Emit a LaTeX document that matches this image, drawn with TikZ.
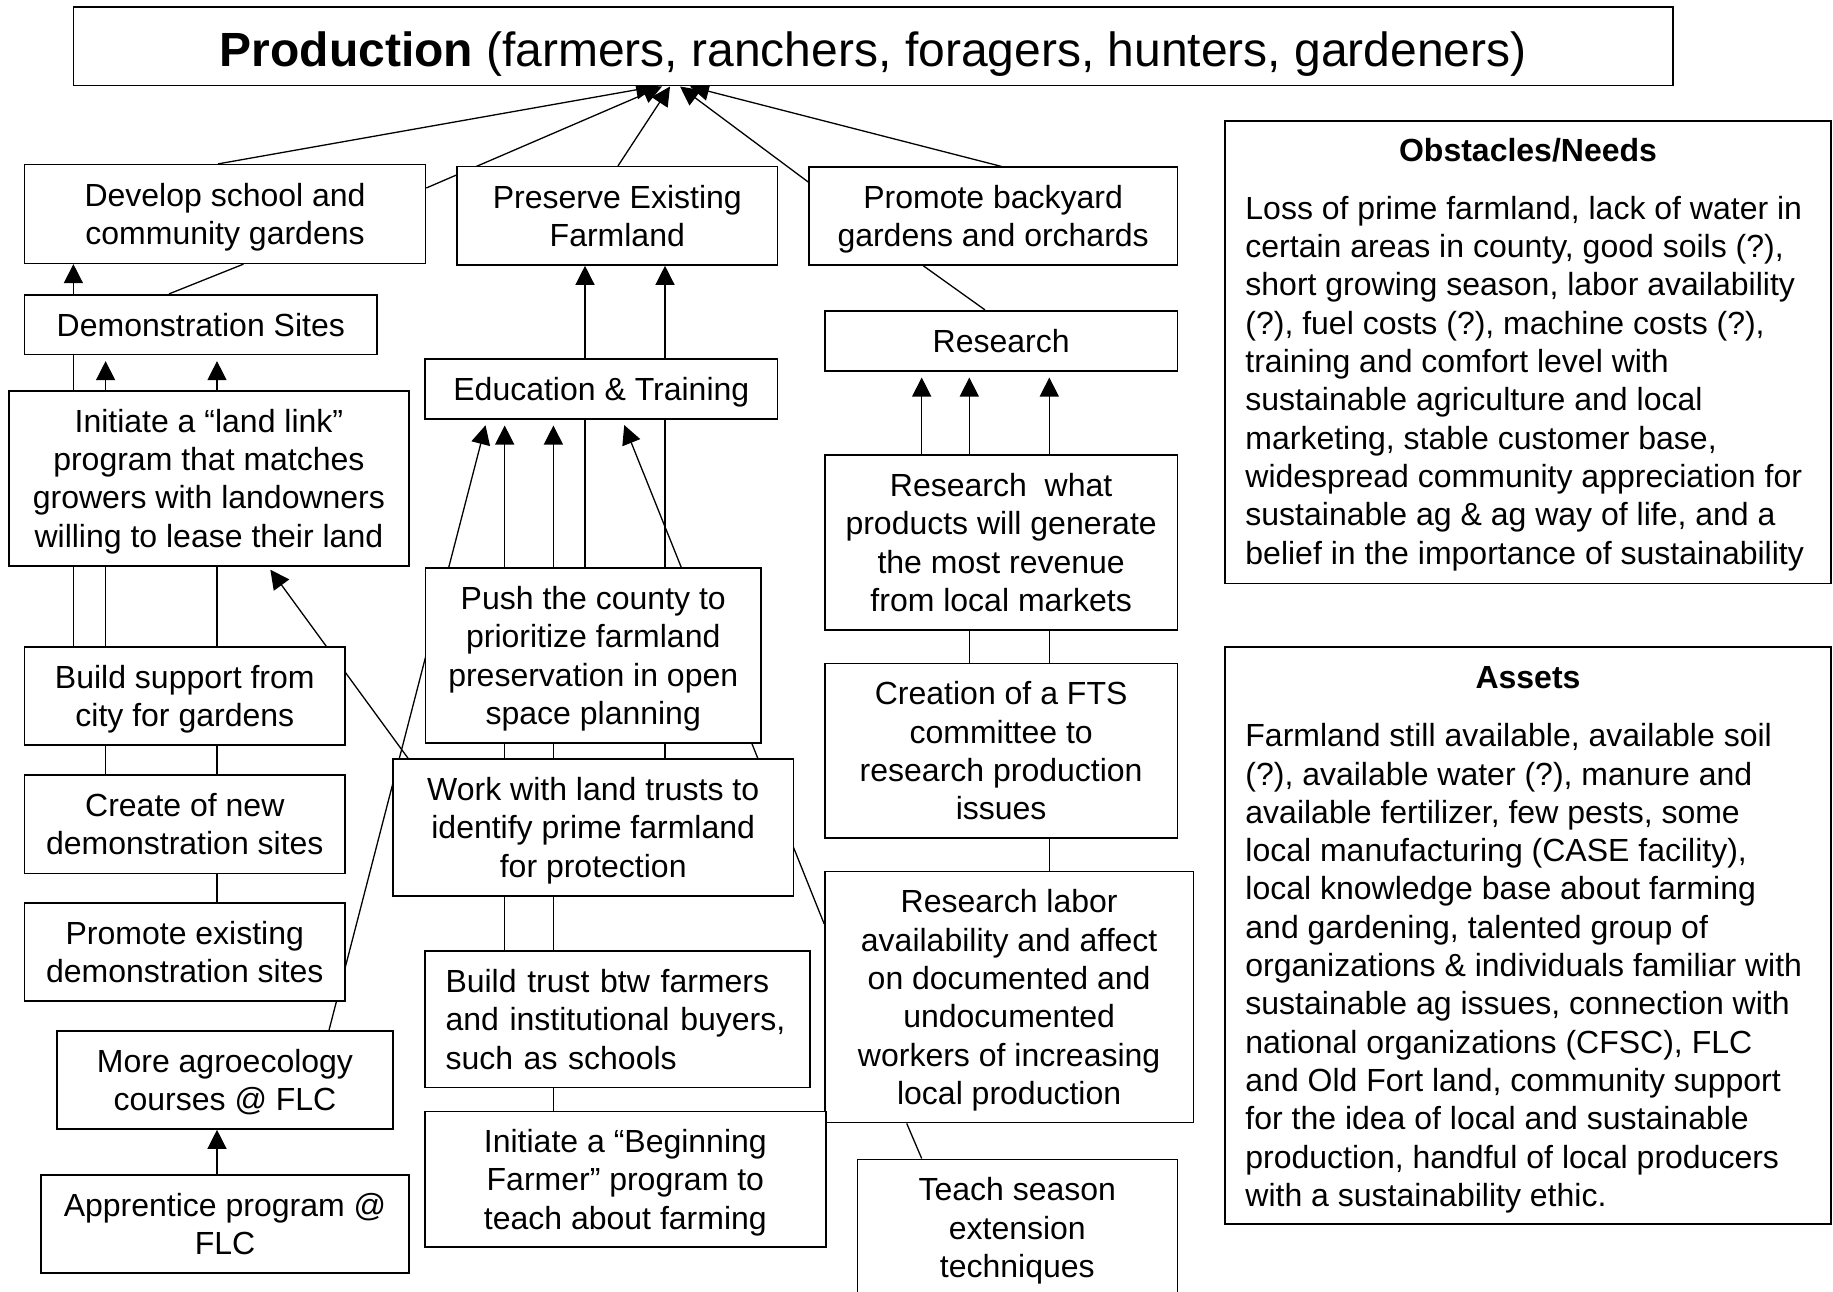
\documentclass[tikz,border=0pt]{standalone}
\usepackage{fontspec}
\setmainfont{Liberation Sans}
\usetikzlibrary{arrows.meta,backgrounds}
\newcommand\bodyfont{\fontsize{32}{38.3}\selectfont}
\newcommand\titlefont{\fontsize{48}{56}\selectfont}
\begin{document}
\begin{tikzpicture}[x=1pt,y=-1pt,
  box/.style={draw,line width=1.6pt,fill=white,inner sep=0pt,align=center,font=\bodyfont,text depth=0pt},
  conn/.style={line width=1.3pt},
  arr/.style={conn,-{Triangle[length=19pt,width=19pt]}},
  gap/.style={shorten >=6pt}]
\useasboundingbox (0,0) rectangle (1833,1292);

% boxes
\node[box,minimum width=1599.6pt,minimum height=78.4pt,font=\titlefont,text height=41pt,text depth=0pt] (title) at (873.2,46.5) {\textbf{Production} (farmers, ranchers, foragers, hunters, gardeners)};
\node[box,minimum width=400.9pt,minimum height=98.6pt] (develop) at (225.05,214) {Develop school and\\community gardens};
\node[box,minimum width=320.6pt,minimum height=98.3pt] (preserve) at (617.3,215.85) {Preserve Existing\\Farmland};
\node[box,minimum width=368.3pt,minimum height=97.7pt] (backyard) at (993.15,216.15) {Promote backyard\\gardens and orchards};
\node[box,minimum width=352.4pt,minimum height=59.6pt] (demo) at (200.8,324.5) {Demonstration Sites};
\node[box,minimum width=352.6pt,minimum height=59.7pt] (edu) at (601.3,388.85) {Education \& Training};
\node[box,minimum width=352.3pt,minimum height=60pt] (research) at (1001.15,340.7) {Research};
\node[box,minimum width=400.2pt,minimum height=175pt] (landlink) at (208.9,478.2) {Initiate a “land link”\\program that matches\\growers with landowners\\willing to lease their land};
\node[box,minimum width=352.3pt,minimum height=175pt] (rwhat) at (1001.15,542.5) {Research\ \ what\\products will generate\\the most revenue\\from local markets};
\node[box,minimum width=335.5pt,minimum height=174.7pt] (push) at (593.25,655.35) {Push the county to\\prioritize farmland\\preservation in open\\space planning};
\node[box,minimum width=320.4pt,minimum height=98.3pt] (buildsup) at (184.8,695.85) {Build support from\\city for gardens};
\node[box,minimum width=352.3pt,minimum height=174.2pt] (fts) at (1001.15,750.7) {Creation of a FTS\\committee to\\research production\\issues};
\node[box,minimum width=400.4pt,minimum height=136.7pt] (work) at (593.2,827.35) {Work with land trusts to\\identify prime farmland\\for protection};
\node[box,minimum width=320.4pt,minimum height=98.3pt] (create) at (184.8,824.15) {Create of new\\demonstration sites};
\node[box,minimum width=368.3pt,minimum height=251.2pt] (labor) at (1009.15,997) {Research labor\\availability and affect\\on documented and\\undocumented\\workers of increasing\\local production};
\node[box,minimum width=320.4pt,minimum height=98.3pt] (promex) at (184.8,951.85) {Promote existing\\demonstration sites};
\node[box,align=left,text width=344pt,text depth=76.6pt,minimum width=385pt,minimum height=136.3pt] (trust) at (617.5,1019.15) {Build trust btw farmers\\and institutional buyers,\\such as schools};
\node[box,minimum width=336pt,minimum height=98pt] (agro) at (225,1080) {More agroecology\\courses @ FLC};
\node[box,minimum width=400.7pt,minimum height=135.7pt] (begin) at (625.35,1179.15) {Initiate a “Beginning\\Farmer” program to\\teach about farming};
\node[box,minimum width=368pt,minimum height=97.7pt] (appr) at (225,1223.85) {Apprentice program @\\FLC};
\node[box,minimum width=320pt,minimum height=136.7pt] (teach) at (1017.3,1227.65) {Teach season\\extension\\techniques};

\node[box,minimum width=606pt,minimum height=462.6pt] (obst) at (1528,352.3) {};
\node[font=\bodyfont\bfseries,anchor=base,inner sep=0pt] (obsthead) at (1528,162) {Obstacles/Needs};
\node[font=\bodyfont,anchor=north west,align=left,inner sep=0pt] (obstbody) at (1245.2,196) {Loss of prime farmland, lack of water in\\certain areas in county, good soils (?),\\short growing season, labor availability\\(?), fuel costs (?), machine costs (?),\\training and comfort level with\\sustainable agriculture and local\\marketing, stable customer base,\\widespread community appreciation for\\sustainable ag \& ag way of life, and a\\belief in the importance of sustainability};

\node[box,minimum width=606pt,minimum height=577pt] (assets) at (1528,935.5) {};
\node[font=\bodyfont\bfseries,anchor=base,inner sep=0pt] (assetshead) at (1528,688) {Assets};
\node[font=\bodyfont,anchor=north west,align=left,inner sep=0pt] (assetsbody) at (1245.2,723.3) {Farmland still available, available soil\\(?), available water (?), manure and\\available fertilizer, few pests, some\\local manufacturing (CASE facility),\\local knowledge base about farming\\and gardening, talented group of\\organizations \& individuals familiar with\\sustainable ag issues, connection with\\national organizations (CFSC), FLC\\and Old Fort land, community support\\for the idea of local and sustainable\\production, handful of local producers\\with a sustainability ethic.};

% named positions for connector ends
\coordinate (t1) at (655,0);
\coordinate (t2) at (662,0);
\coordinate (t3) at (670,0);
\coordinate (t4) at (680,0);
\coordinate (t5) at (690,0);
\coordinate (xa) at (218,0);
\coordinate (yb) at (0,188);
\coordinate (xp) at (618,0);
\coordinate (yd) at (0,182);
\coordinate (xe) at (1001.7,0);
\coordinate (x73) at (73.4,0);
\coordinate (x105) at (105.6,0);
\coordinate (x217) at (217,0);
\coordinate (x169) at (169,0);
\coordinate (x243) at (243.5,0);
\coordinate (x408) at (408,0);
\coordinate (x268) at (268,0);
\coordinate (x329) at (329,0);
\coordinate (x487) at (487,0);
\coordinate (x585) at (585,0);
\coordinate (x665) at (665,0);
\coordinate (x504) at (504.7,0);
\coordinate (x553) at (553.4,0);
\coordinate (x622) at (622,0);
\coordinate (ylab) at (0,924);
\coordinate (x923) at (923.3,0);
\coordinate (x985) at (985,0);
\coordinate (x921) at (921.7,0);
\coordinate (x969) at (969.3,0);
\coordinate (x1049) at (1049.3,0);
\coordinate (x906) at (906.7,0);

\begin{scope}[on background layer]
\fill[white] (0,0) rectangle (1833,1292);
\draw[arr] (develop.north -| xa) -- (title.south -| t1);
\draw[arr] (develop.east |- yb) -- (title.south -| t2);
\draw[arr] (preserve.north -| xp) -- (title.south -| t3);
\draw[arr] (backyard.west |- yd) -- (title.south -| t4);
\draw[arr] (backyard.north -| xe) -- (title.south -| t5);
\draw[arr] (demo.north -| x73) -- (develop.south -| x73);
\draw[conn] (demo.north -| x169) -- (develop.south -| x243);
\draw[conn] (buildsup.north -| x73) -- (demo.south -| x73);
\draw[arr,gap] (create.north -| x105) -- (demo.south -| x105);
\draw[arr,gap] (promex.north -| x217) -- (demo.south -| x217);
\draw[arr,shorten >=4pt] (work.north -| x408) -- (landlink.south -| x268);
\draw[arr] (appr.north -| x217) -- (agro.south -| x217);
\draw[arr,gap] (agro.north -| x329) -- (edu.south -| x487);
\draw[arr] (push.north -| x585) -- (preserve.south -| x585);
\draw[arr] (work.north -| x665) -- (preserve.south -| x665);
\draw[arr,gap] (trust.north -| x504) -- (edu.south -| x504);
\draw[arr,gap] (begin.north -| x553) -- (edu.south -| x553);
\draw[arr,gap] (labor.west |- ylab) -- (edu.south -| x622);
\draw[conn] (backyard.south -| x923) -- (research.north -| x985);
\draw[arr,gap] (rwhat.north -| x921) -- (research.south -| x921);
\draw[arr,gap] (fts.north -| x969) -- (research.south -| x969);
\draw[arr,gap] (labor.north -| x1049) -- (research.south -| x1049);
\draw[conn] (labor.south -| x906) -- (teach.north -| x921);
\end{scope}
\end{tikzpicture}
\end{document}
